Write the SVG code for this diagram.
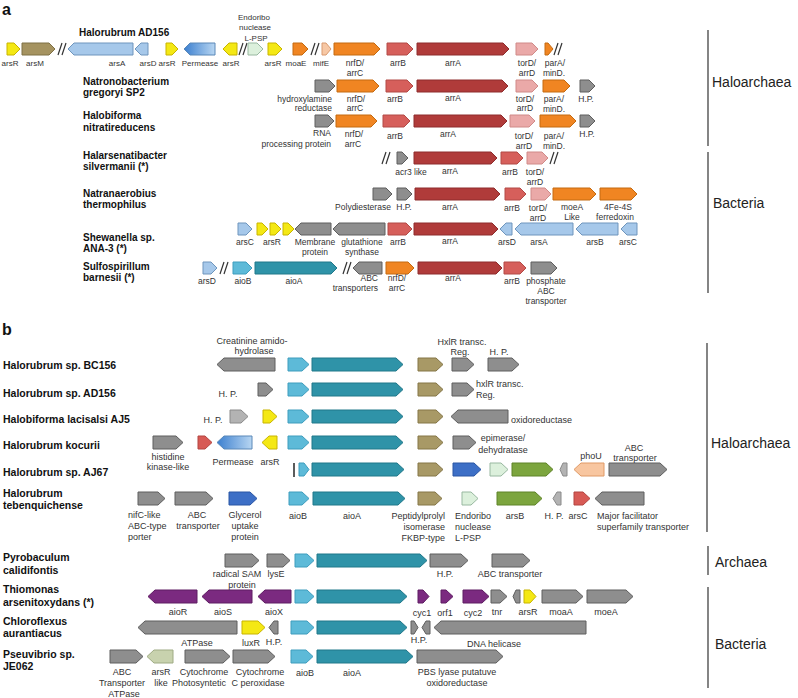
<svg xmlns="http://www.w3.org/2000/svg" width="798" height="698" viewBox="0 0 798 698">
<defs>
<linearGradient id="perm" x1="0" y1="0" x2="1" y2="0"><stop offset="0" stop-color="#3b7fcf"/><stop offset="1" stop-color="#b8d6f2"/></linearGradient>
<style>
text{font-family:"Liberation Sans",Arial,sans-serif;fill:#333}
polygon{stroke-width:1}
.yel{fill:#f4e814;stroke:#c8b400}
.kh{fill:#a59360;stroke:#7f7045}
.lb{fill:#a6c8ea;stroke:#6e95bd}
.endo{fill:#dcf0dc;stroke:#98b8a0}
.or{fill:#f08522;stroke:#c46a10}
.pe{fill:#f7c8a5;stroke:#d99a70}
.ab{fill:#d65f5b;stroke:#b24a46}
.aa{fill:#b03b3a;stroke:#8e2c2c}
.tor{fill:#eaa9a8;stroke:#d08a88}
.gr{fill:#8e8e8e;stroke:#5e5e5e}
.cy{fill:#5dbad8;stroke:#3f9dbd}
.te{fill:#2f93a8;stroke:#21788a}
.kb{fill:#a89966;stroke:#857647}
.pu{fill:#7b2a80;stroke:#5e1c62}
.grn{fill:#7ca53e;stroke:#5f8428}
.bl{fill:#3d6fc6;stroke:#2b56a4}
.lg{fill:#b3b3b3;stroke:#8a8a8a}
.pho{fill:#f8c6a0;stroke:#e09a66}
.red{fill:#d75a55;stroke:#b34541}
.arl{fill:#c8d2ae;stroke:#9fab84}
.perm{fill:url(#perm);stroke:#5a88b8}
.ta{font-size:8.5px;text-anchor:middle}
.t8{font-size:8px}
.tb{font-size:9px;text-anchor:middle}
.s{text-anchor:start}
.e{text-anchor:end}
.oa{font-size:10px;font-weight:bold;fill:#111}
.ob{font-size:10.5px;font-weight:bold;fill:#111}
.grp{font-size:14px;fill:#222}
.pl{font-size:16px;font-weight:bold;fill:#111}
.brk{stroke:#333;stroke-width:1.2;fill:none}
.bar{stroke:#666;stroke-width:1.6}
</style>
</defs>
<rect width="798" height="698" fill="#fff"/>
<text class="pl" x="2" y="15">a</text>
<text class="pl" x="2" y="335">b</text>

<!-- Panel a organism labels -->
<g id="org-a">
<text class="oa" x="79" y="36">Halorubrum AD156</text>
<text class="oa" x="83" y="85">Natronobacterium</text><text class="oa" x="83" y="96">gregoryi SP2</text>
<text class="oa" x="83" y="119">Halobiforma</text><text class="oa" x="83" y="131">nitratireducens</text>
<text class="oa" x="83" y="159">Halarsenatibacter</text><text class="oa" x="83" y="170">silvermanii (*)</text>
<text class="oa" x="83" y="197">Natranaerobius</text><text class="oa" x="83" y="208">thermophilus</text>
<text class="oa" x="83" y="241">Shewanella sp.</text><text class="oa" x="83" y="252">ANA-3 (*)</text>
<text class="oa" x="83" y="270">Sulfospirillum</text><text class="oa" x="83" y="281">barnesii (*)</text>
</g>

<!-- Connectors: breaks and bracket lines -->
<g id="connectors">
<path class="brk" d="M58,55 L62,43 M62,55 L66,43 M239,55 L243,43 M243,55 L247,43 M311,55 L315,43 M315,55 L319,43 M554,55 L558,43 M558,55 L562,43 M382,164 L386,152 M386,164 L390,152 M550,164 L554,152 M554,164 L558,152 M220,274 L224,262 M224,274 L228,262 M343,274 L347,262 M347,274 L351,262"/>
<line class="bar" x1="708" y1="30" x2="708" y2="146"/>
<line class="bar" x1="708" y1="152" x2="708" y2="293"/>
<line class="bar" x1="707" y1="343" x2="707" y2="532"/>
<line class="bar" x1="708" y1="546" x2="708" y2="575"/>
<line class="bar" x1="708" y1="587" x2="708" y2="688"/>
<line x1="294" y1="463" x2="294" y2="477" stroke="#333" stroke-width="1.6"/>
</g>
<g id="groups">
<text class="grp" x="712" y="87">Haloarchaea</text>
<text class="grp" x="713" y="208">Bacteria</text>
<text class="grp" x="711" y="448">Haloarchaea</text>
<text class="grp" x="715" y="567">Archaea</text>
<text class="grp" x="715" y="649">Bacteria</text>
</g>

<!-- Row a1 -->
<g id="a1">
<g id="a1-arsR1"><polygon class="yel" points="7,43 14,43 20,49 14,55 7,55"/><text class="ta t8" x="10" y="66">arsR</text></g>
<g id="a1-arsM"><polygon class="kh" points="22,43 49,43 55,49 49,55 22,55"/><text class="ta t8" x="35" y="66">arsM</text></g>
<g id="a1-arsA"><polygon class="lb" points="133,43 74,43 68,49 74,55 133,55"/><text class="ta t8" x="117" y="66">arsA</text></g>
<g id="a1-arsD"><polygon class="lb" points="148,43 141,43 135,49 141,55 148,55"/><text class="ta t8" x="148" y="66">arsD</text></g>
<g id="a1-arsR2"><polygon class="yel" points="166,43 172,43 178,49 172,55 166,55"/><text class="ta t8" x="167" y="66">arsR</text></g>
<g id="a1-perm"><polygon class="perm" points="215,43 190,43 184,49 190,55 215,55"/><text class="ta t8" x="200" y="66">Permease</text></g>
<g id="a1-arsR3"><polygon class="yel" points="237,43 229,43 223,49 229,55 237,55"/><text class="ta t8" x="231" y="66">arsR</text></g>
<g id="a1-endo"><polygon class="endo" points="248,43 257,43 263,49 257,55 248,55"/><text class="ta t8" x="254" y="20">Endoribo</text><text class="ta t8" x="255" y="30">nuclease</text><text class="ta t8" x="256" y="41">L-PSP</text></g>
<g id="a1-arsR4"><polygon class="yel" points="268,43 276,43 282,49 276,55 268,55"/><text class="ta t8" x="273" y="66">arsR</text></g>
<g id="a1-moaE"><polygon class="or" points="293,43 302,43 308,49 302,55 293,55"/><text class="ta t8" x="296" y="66">moaE</text></g>
<g id="a1-mifE"><polygon class="pe" points="322,43 326,43 331,49 326,55 322,55"/><text class="ta t8" x="321" y="66">mifE</text></g>
<g id="a1-nrfD"><polygon class="or" points="334,43 374,43 380,49 374,55 334,55"/><text class="ta" x="355" y="66">nrfD/</text><text class="ta" x="355" y="76">arrC</text></g>
<g id="a1-arrB"><polygon class="ab" points="387,43 407,43 413,49 407,55 387,55"/><text class="ta" x="398" y="66">arrB</text></g>
<g id="a1-arrA"><polygon class="aa" points="417,43 503,43 509,49 503,55 417,55"/><text class="ta" x="453" y="66">arrA</text></g>
<g id="a1-torD"><polygon class="tor" points="516,43 532,43 538,49 532,55 516,55"/><text class="ta" x="527" y="66">torD/</text><text class="ta" x="527" y="76">arrD</text></g>
<g id="a1-parA"><polygon class="or" points="545,43 548,43 553,49 548,55 545,55"/><text class="ta" x="555" y="66">parA/</text><text class="ta" x="554" y="76">minD.</text></g>
</g>

<!-- Row a2 -->
<g id="a2">
<g id="a2-hyd"><polygon class="gr" points="315,80 329,80 335,86 329,92 315,92"/><text class="ta e" x="332" y="102">hydroxylamine</text><text class="ta e" x="332" y="111">reductase</text></g>
<g id="a2-nrfD"><polygon class="or" points="337,80 373,80 379,86 373,92 337,92"/><text class="ta" x="356" y="102">nrfD/</text><text class="ta" x="355" y="111">arrC</text></g>
<g id="a2-arrB"><polygon class="ab" points="386,80 407,80 413,86 407,92 386,92"/><text class="ta" x="395" y="102">arrB</text></g>
<g id="a2-arrA"><polygon class="aa" points="417,80 502,80 508,86 502,92 417,92"/><text class="ta" x="453" y="101">arrA</text></g>
<g id="a2-torD"><polygon class="tor" points="516,80 532,80 538,86 532,92 516,92"/><text class="ta" x="525" y="102">torD/</text><text class="ta" x="525" y="111">arrD</text></g>
<g id="a2-parA"><polygon class="or" points="543,80 564,80 570,86 564,92 543,92"/><text class="ta" x="554" y="102">parA/</text><text class="ta" x="554" y="112">minD.</text></g>
<g id="a2-HP"><polygon class="gr" points="580,80 589,80 595,86 589,92 580,92"/><text class="ta" x="586" y="102">H.P.</text></g>
</g>

<!-- Row a3 -->
<g id="a3">
<g id="a3-rna"><polygon class="gr" points="315,115 328,115 334,121 328,127 315,127"/><text class="ta e" x="331" y="136">RNA</text><text class="ta e" x="331" y="147">processing protein</text></g>
<g id="a3-nrfD"><polygon class="or" points="336,115 371,115 377,121 371,127 336,127"/><text class="ta" x="354" y="137">nrfD/</text><text class="ta" x="353" y="147">arrC</text></g>
<g id="a3-arrB"><polygon class="ab" points="383,115 404,115 410,121 404,127 383,127"/><text class="ta" x="395" y="139">arrB</text></g>
<g id="a3-arrA"><polygon class="aa" points="414,115 501,115 507,121 501,127 414,127"/><text class="ta" x="448" y="137">arrA</text></g>
<g id="a3-torD"><polygon class="tor" points="510,115 529,115 535,121 529,127 510,127"/><text class="ta" x="524" y="139">torD/</text><text class="ta" x="524" y="149">arrD</text></g>
<g id="a3-parA"><polygon class="or" points="540,115 570,115 576,121 570,127 540,127"/><text class="ta" x="554" y="139">parA/</text><text class="ta" x="554" y="149">minD.</text></g>
<g id="a3-HP"><polygon class="gr" points="580,115 589,115 595,121 589,127 580,127"/><text class="ta" x="587" y="137">H.P.</text></g>
</g>

<!-- Row a4 -->
<g id="a4">
<g id="a4-acr3"><polygon class="gr" points="397,152 402,152 408,158 402,164 397,164"/><text class="ta" x="411" y="175">acr3 like</text></g>
<g id="a4-arrA"><polygon class="aa" points="414,152 491,152 497,158 491,164 414,164"/><text class="ta" x="450" y="174">arrA</text></g>
<g id="a4-arrB"><polygon class="ab" points="501,152 517,152 523,158 517,164 501,164"/><text class="ta" x="510" y="175">arrB</text></g>
<g id="a4-torD"><polygon class="tor" points="527,152 542,152 548,158 542,164 527,164"/><text class="ta" x="535" y="175">torD/</text><text class="ta" x="535" y="185">arrD</text></g>
</g>

<!-- Row a5 -->
<g id="a5">
<g id="a5-poly"><polygon class="gr" points="373,188 386,188 392,194 386,200 373,200"/><text class="ta" x="363" y="210">Polydiesterase</text></g>
<g id="a5-HP"><polygon class="gr" points="397,188 406,188 412,194 406,200 397,200"/><text class="ta" x="404" y="210">H.P.</text></g>
<g id="a5-arrA"><polygon class="aa" points="415,188 494,188 500,194 494,200 415,200"/><text class="ta" x="450" y="210">arrA</text></g>
<g id="a5-arrB"><polygon class="ab" points="505,188 520,188 526,194 520,200 505,200"/><text class="ta" x="512" y="211">arrB</text></g>
<g id="a5-torD"><polygon class="tor" points="531,188 545,188 551,194 545,200 531,200"/><text class="ta" x="538" y="211">torD/</text><text class="ta" x="538" y="221">arrD</text></g>
<g id="a5-moeA"><polygon class="or" points="553,188 590,188 596,194 590,200 553,200"/><text class="ta" x="572" y="210">moeA</text><text class="ta" x="572" y="220">Like</text></g>
<g id="a5-fe"><polygon class="or" points="600,188 631,188 637,194 631,200 600,200"/><text class="ta" x="618" y="210">4Fe-4S</text><text class="ta" x="615" y="220">ferredoxin</text></g>
</g>

<!-- Row a6 -->
<g id="a6">
<g id="a6-arsC1"><polygon class="lb" points="238,223 246,223 252,229 246,235 238,235"/><text class="ta" x="245" y="245">arsC</text></g>
<g id="a6-arsR"><polygon class="yel" points="257,223 262,223 268,229 262,235 257,235"/><polygon class="yel" points="270,223 275,223 281,229 275,235 270,235"/><polygon class="yel" points="283,223 288,223 294,229 288,235 283,235"/><text class="ta" x="272" y="245">arsR</text></g>
<g id="a6-mem"><polygon class="gr" points="331,223 301,223 295,229 301,235 331,235"/><text class="ta" x="315" y="245">Membrane</text><text class="ta" x="315" y="255">protein</text></g>
<g id="a6-glu"><polygon class="gr" points="385,223 339,223 333,229 339,235 385,235"/><text class="ta" x="362" y="245">glutathione</text><text class="ta" x="362" y="255">synthase</text></g>
<g id="a6-arrB"><polygon class="ab" points="388,223 406,223 412,229 406,235 388,235"/><text class="ta" x="398" y="245">arrB</text></g>
<g id="a6-arrA"><polygon class="aa" points="414,223 492,223 498,229 492,235 414,235"/><text class="ta" x="450" y="244">arrA</text></g>
<g id="a6-arsD"><polygon class="lb" points="512,223 506,223 500,229 506,235 512,235"/><text class="ta" x="507" y="245">arsD</text></g>
<g id="a6-arsA"><polygon class="lb" points="573,223 521,223 515,229 521,235 573,235"/><text class="ta" x="539" y="245">arsA</text></g>
<g id="a6-arsB"><polygon class="lb" points="618,223 582,223 576,229 582,235 618,235"/><text class="ta" x="595" y="245">arsB</text></g>
<g id="a6-arsC2"><polygon class="lb" points="637,223 627,223 621,229 627,235 637,235"/><text class="ta" x="628" y="245">arsC</text></g>
</g>

<!-- Row a7 -->
<g id="a7">
<g id="a7-arsD"><polygon class="lb" points="203,262 211,262 217,268 211,274 203,274"/><text class="ta" x="207" y="284">arsD</text></g>
<g id="a7-aioB"><polygon class="cy" points="233,262 246,262 252,268 246,274 233,274"/><text class="ta" x="243" y="284">aioB</text></g>
<g id="a7-aioA"><polygon class="te" points="255,262 331,262 337,268 331,274 255,274"/><text class="ta" x="294" y="284">aioA</text></g>
<g id="a7-abc"><polygon class="gr" points="382,262 359,262 353,268 359,274 382,274"/><text class="ta e" x="378" y="281">ABC</text><text class="ta e" x="378" y="291">transporters</text></g>
<g id="a7-nrfD"><polygon class="or" points="386,262 408,262 414,268 408,274 386,274"/><text class="ta" x="397" y="281">nrfD/</text><text class="ta" x="397" y="291">arrC</text></g>
<g id="a7-arrA"><polygon class="aa" points="418,262 496,262 502,268 496,274 418,274"/><text class="ta" x="453" y="281">arrA</text></g>
<g id="a7-arrB"><polygon class="ab" points="504,262 520,262 526,268 520,274 504,274"/><text class="ta" x="512" y="284">arrB</text></g>
<g id="a7-pho"><polygon class="gr" points="531,262 551,262 557,268 551,274 531,274"/><text class="ta" x="546" y="284">phosphate</text><text class="ta" x="546" y="294">ABC</text><text class="ta" x="546" y="304">transporter</text></g>
</g>

<!-- Panel b organism labels -->
<g id="org-b">
<text class="ob" x="3" y="369">Halorubrum sp. BC156</text>
<text class="ob" x="3" y="397">Halorubrum sp. AD156</text>
<text class="ob" x="3" y="423">Halobiforma lacisalsi AJ5</text>
<text class="ob" x="3" y="449">Halorubrum kocurii</text>
<text class="ob" x="3" y="476">Halorubrum sp. AJ67</text>
<text class="ob" x="3" y="497">Halorubrum</text><text class="ob" x="3" y="509">tebenquichense</text>
<text class="ob" x="3" y="561">Pyrobaculum</text><text class="ob" x="3" y="574">calidifontis</text>
<text class="ob" x="3" y="593">Thiomonas</text><text class="ob" x="3" y="606">arsenitoxydans (*)</text>
<text class="ob" x="3" y="625">Chloroflexus</text><text class="ob" x="3" y="637">aurantiacus</text>
<text class="ob" x="3" y="658">Pseuvibrio sp.</text><text class="ob" x="3" y="670">JE062</text>
</g>

<!-- b1 BC156 -->
<g id="b1">
<g id="b1-creat"><polygon class="gr" points="275,358 224,358 217,364.5 224,371 275,371"/><text class="tb" x="252" y="344">Creatinine amido-</text><text class="tb" x="254" y="354">hydrolase</text></g>
<g id="b1-aioB"><polygon class="cy" points="288,358 302,358 309,364.5 302,371 288,371"/></g>
<g id="b1-aioA"><polygon class="te" points="312,358 396,358 403,364.5 396,371 312,371"/></g>
<g id="b1-ppi"><polygon class="kb" points="418,358 436,358 443,364.5 436,371 418,371"/></g>
<g id="b1-hxlr"><polygon class="gr" points="452,358 467,358 474,364.5 467,371 452,371"/><text class="tb" x="462" y="345">HxlR transc.</text><text class="tb" x="460" y="355">Reg.</text></g>
<g id="b1-HP"><polygon class="gr" points="488,358 512,358 519,364.5 512,371 488,371"/><text class="tb" x="499" y="355">H. P.</text></g>
</g>

<!-- b2 AD156 -->
<g id="b2">
<g id="b2-HP"><polygon class="gr" points="258,383 266,383 273,389.5 266,396 258,396"/><text class="tb" x="228" y="397">H. P.</text></g>
<g id="b2-aioB"><polygon class="cy" points="288,383 302,383 309,389.5 302,396 288,396"/></g>
<g id="b2-aioA"><polygon class="te" points="312,383 396,383 403,389.5 396,396 312,396"/></g>
<g id="b2-ppi"><polygon class="kb" points="418,383 436,383 443,389.5 436,396 418,396"/></g>
<g id="b2-hxlr"><polygon class="gr" points="452,383 467,383 474,389.5 467,396 452,396"/><text class="tb s" x="476" y="387">hxlR transc.</text><text class="tb s" x="476" y="398">Reg.</text></g>
</g>

<!-- b3 AJ5 -->
<g id="b3">
<g id="b3-HP"><polygon class="lg" points="230,410 241,410 248,416.5 241,423 230,423"/><text class="tb" x="213" y="423">H. P.</text></g>
<g id="b3-yel"><polygon class="yel" points="263,410 270,410 277,416.5 270,423 263,423"/></g>
<g id="b3-aioB"><polygon class="cy" points="288,410 302,410 309,416.5 302,423 288,423"/></g>
<g id="b3-aioA"><polygon class="te" points="312,410 396,410 403,416.5 396,423 312,423"/></g>
<g id="b3-ppi"><polygon class="kb" points="418,410 436,410 443,416.5 436,423 418,423"/></g>
<g id="b3-oxi"><polygon class="gr" points="508,410 458,410 451,416.5 458,423 508,423"/><text class="tb s" x="511" y="423">oxidoreductase</text></g>
</g>

<!-- b4 kocurii -->
<g id="b4">
<g id="b4-his"><polygon class="gr" points="153,436 176,436 183,442.5 176,449 153,449"/><text class="tb" x="168" y="460">histidine</text><text class="tb" x="168" y="470">kinase-like</text></g>
<g id="b4-red"><polygon class="red" points="198,436 205,436 212,442.5 205,449 198,449"/></g>
<g id="b4-perm"><polygon class="perm" points="252,436 224,436 217,442.5 224,449 252,449"/><text class="tb" x="233" y="465">Permease</text></g>
<g id="b4-arsR"><polygon class="yel" points="277,436 269,436 262,442.5 269,449 277,449"/><text class="tb" x="270" y="465">arsR</text></g>
<g id="b4-aioB"><polygon class="cy" points="288,436 302,436 309,442.5 302,449 288,449"/></g>
<g id="b4-aioA"><polygon class="te" points="312,436 396,436 403,442.5 396,449 312,449"/></g>
<g id="b4-ppi"><polygon class="kb" points="418,436 436,436 443,442.5 436,449 418,449"/></g>
<g id="b4-epi"><polygon class="gr" points="453,436 469,436 476,442.5 469,449 453,449"/><text class="tb" x="503" y="441">epimerase/</text><text class="tb" x="503" y="453">dehydratase</text></g>
</g>

<!-- b5 AJ67 -->
<g id="b5">
<g id="b5-aioB"><polygon class="cy" points="299,463 304,463 309,469.5 304,476 299,476"/></g>
<g id="b5-aioA"><polygon class="te" points="312,463 397,463 404,469.5 397,476 312,476"/></g>
<g id="b5-ppi"><polygon class="kb" points="418,463 436,463 443,469.5 436,476 418,476"/></g>
<g id="b5-blue"><polygon class="bl" points="453,463 474,463 481,469.5 474,476 453,476"/></g>
<g id="b5-endo"><polygon class="endo" points="490,463 501,463 508,469.5 501,476 490,476"/></g>
<g id="b5-arsB"><polygon class="grn" points="512,463 546,463 553,469.5 546,476 512,476"/></g>
<g id="b5-lg"><polygon class="lg" points="567,463 563,463 560,469.5 563,476 567,476"/></g>
<g id="b5-phoU"><polygon class="pho" points="604,463 581,463 574,469.5 581,476 604,476"/><text class="tb" x="591" y="459">phoU</text></g>
<g id="b5-abc"><polygon class="gr" points="609,463 660,463 667,469.5 660,476 609,476"/><text class="tb" x="634" y="451">ABC</text><text class="tb" x="635" y="461">transporter</text></g>
</g>

<!-- b6 tebenquichense -->
<g id="b6">
<g id="b6-nifC"><polygon class="gr" points="138,492 158,492 165,498.5 158,505 138,505"/><text class="tb s" x="128" y="518">nifC-like</text><text class="tb s" x="128" y="529">ABC-type</text><text class="tb s" x="128" y="540">porter</text></g>
<g id="b6-abc"><polygon class="gr" points="175,492 206,492 213,498.5 206,505 175,505"/><text class="tb" x="197" y="518">ABC</text><text class="tb" x="198" y="529">transporter</text></g>
<g id="b6-gly"><polygon class="bl" points="229,492 250,492 257,498.5 250,505 229,505"/><text class="tb" x="245" y="518">Glycerol</text><text class="tb" x="245" y="529">uptake</text><text class="tb" x="245" y="540">protein</text></g>
<g id="b6-aioB"><polygon class="cy" points="289,492 302,492 309,498.5 302,505 289,505"/><text class="tb" x="298" y="519">aioB</text></g>
<g id="b6-aioA"><polygon class="te" points="313,492 398,492 405,498.5 398,505 313,505"/><text class="tb" x="352" y="519">aioA</text></g>
<g id="b6-ppi"><polygon class="kb" points="418,492 435,492 442,498.5 435,505 418,505"/><text class="tb e" x="445" y="519">Peptidylprolyl</text><text class="tb e" x="445" y="530">isomerase</text><text class="tb e" x="445" y="541">FKBP-type</text></g>
<g id="b6-endo"><polygon class="endo" points="462,492 471,492 478,498.5 471,505 462,505"/><text class="tb s" x="455" y="519">Endoribo</text><text class="tb s" x="455" y="530">nuclease</text><text class="tb s" x="455" y="541">L-PSP</text></g>
<g id="b6-arsB"><polygon class="grn" points="497,492 535,492 542,498.5 535,505 497,505"/><text class="tb" x="515" y="519">arsB</text></g>
<g id="b6-HP"><polygon class="lg" points="561,492 557,492 553,498.5 557,505 561,505"/><text class="tb" x="554" y="519">H. P.</text></g>
<g id="b6-arsC"><polygon class="red" points="574,492 583,492 590,498.5 583,505 574,505"/><text class="tb" x="578" y="519">arsC</text></g>
<g id="b6-mfs"><polygon class="gr" points="644,492 602,492 595,498.5 602,505 644,505"/><text class="tb s" x="597" y="519">Major facilitator</text><text class="tb s" x="597" y="530">superfamily transporter</text></g>
</g>

<!-- b7 Pyrobaculum -->
<g id="b7">
<g id="b7-sam"><polygon class="gr" points="225,554 252,554 259,560.5 252,567 225,567"/><text class="tb" x="237" y="577">radical SAM</text><text class="tb" x="242" y="588">protein</text></g>
<g id="b7-lysE"><polygon class="gr" points="267,554 283,554 290,560.5 283,567 267,567"/><text class="tb" x="276" y="577">lysE</text></g>
<g id="b7-aioB"><polygon class="cy" points="295,554 307,554 314,560.5 307,567 295,567"/></g>
<g id="b7-aioA"><polygon class="te" points="317,554 420,554 427,560.5 420,567 317,567"/></g>
<g id="b7-HP"><polygon class="gr" points="430,554 461,554 468,560.5 461,567 430,567"/><text class="tb" x="445" y="577">H.P.</text></g>
<g id="b7-abc"><polygon class="gr" points="492,554 523,554 530,560.5 523,567 492,567"/><text class="tb" x="510" y="577">ABC transporter</text></g>
</g>

<!-- b8 Thiomonas -->
<g id="b8">
<g id="b8-aioR"><polygon class="pu" points="197,590 155,590 148,596.5 155,603 197,603"/><text class="tb" x="178" y="615">aioR</text></g>
<g id="b8-aioS"><polygon class="pu" points="252,590 209,590 202,596.5 209,603 252,603"/><text class="tb" x="223" y="615">aioS</text></g>
<g id="b8-aioX"><polygon class="pu" points="291,590 265,590 258,596.5 265,603 291,603"/><text class="tb" x="274" y="615">aioX</text></g>
<g id="b8-aioB"><polygon class="cy" points="295,590 307,590 314,596.5 307,603 295,603"/></g>
<g id="b8-aioA"><polygon class="te" points="317,590 400,590 407,596.5 400,603 317,603"/></g>
<g id="b8-cyc1"><polygon class="pu" points="418,590 423,590 429,596.5 423,603 418,603"/><text class="tb" x="422" y="616">cyc1</text></g>
<g id="b8-orf1"><polygon class="pu" points="441,590 446,590 453,596.5 446,603 441,603"/><text class="tb" x="445" y="616">orf1</text></g>
<g id="b8-cyc2"><polygon class="pu" points="463,590 482,590 489,596.5 482,603 463,603"/><text class="tb" x="473" y="616">cyc2</text></g>
<g id="b8-tnr"><polygon class="gr" points="491,590 500,590 507,596.5 500,603 491,603"/><text class="tb" x="497" y="615">tnr</text></g>
<g id="b8-gr"><polygon class="gr" points="520,590 516,590 513,596.5 516,603 520,603"/></g>
<g id="b8-arsR"><polygon class="yel" points="524,590 530,590 536,596.5 530,603 524,603"/><text class="tb" x="528" y="615">arsR</text></g>
<g id="b8-moaA"><polygon class="gr" points="542,590 576,590 583,596.5 576,603 542,603"/><text class="tb" x="561" y="615">moaA</text></g>
<g id="b8-moeA"><polygon class="gr" points="587,590 626,590 633,596.5 626,603 587,603"/><text class="tb" x="606" y="615">moeA</text></g>
</g>

<!-- b9 Chloroflexus -->
<g id="b9">
<g id="b9-atp"><polygon class="gr" points="237,621 145,621 138,627.5 145,634 237,634"/><text class="tb" x="197" y="646">ATPase</text></g>
<g id="b9-luxR"><polygon class="yel" points="242,621 258,621 265,627.5 258,634 242,634"/><text class="tb" x="251" y="646">luxR</text></g>
<g id="b9-HP1"><polygon class="gr" points="278,621 274,621 269,627.5 274,634 278,634"/><text class="tb" x="274" y="645">H.P.</text></g>
<g id="b9-aioB"><polygon class="cy" points="291,621 307,621 314,627.5 307,634 291,634"/></g>
<g id="b9-aioA"><polygon class="te" points="317,621 400,621 407,627.5 400,634 317,634"/></g>
<g id="b9-HP2"><polygon class="gr" points="411,621 414,621 418,627.5 414,634 411,634"/><polygon class="gr" points="430,621 426,621 422,627.5 426,634 430,634"/><text class="tb" x="419" y="643">H.P.</text></g>
<g id="b9-dna"><polygon class="gr" points="586,621 441,621 434,627.5 441,634 586,634"/><text class="tb" x="494" y="647">DNA helicase</text></g>
</g>

<!-- b10 Pseuvibrio -->
<g id="b10">
<g id="b10-abc"><polygon class="gr" points="110,650 136,650 143,656.5 136,663 110,663"/><text class="tb" x="122" y="675">ABC</text><text class="tb" x="122" y="686">Transporter</text><text class="tb" x="124" y="697">ATPase</text></g>
<g id="b10-arsR"><polygon class="arl" points="173,650 154,650 147,656.5 154,663 173,663"/><text class="tb" x="161" y="675">arsR</text><text class="tb" x="161" y="686">like</text></g>
<g id="b10-cyt1"><polygon class="gr" points="185,650 223,650 230,656.5 223,663 185,663"/><text class="tb" x="204" y="675">Cytochrome</text><text class="tb" x="199" y="686">Photosyntetic</text></g>
<g id="b10-cyt2"><polygon class="gr" points="233,650 268,650 275,656.5 268,663 233,663"/><text class="tb" x="260" y="675">Cytochrome</text><text class="tb" x="258" y="686">C peroxidase</text></g>
<g id="b10-aioB"><polygon class="cy" points="291,650 306,650 313,656.5 306,663 291,663"/><text class="tb" x="305" y="676">aioB</text></g>
<g id="b10-aioA"><polygon class="te" points="317,650 406,650 413,656.5 406,663 317,663"/><text class="tb" x="352" y="676">aioA</text></g>
<g id="b10-pbs"><polygon class="gr" points="417,650 496,650 503,656.5 496,663 417,663"/><text class="tb" x="457" y="675">PBS lyase putatuve</text><text class="tb" x="457" y="686">oxidoreductase</text></g>
</g>
</svg>
